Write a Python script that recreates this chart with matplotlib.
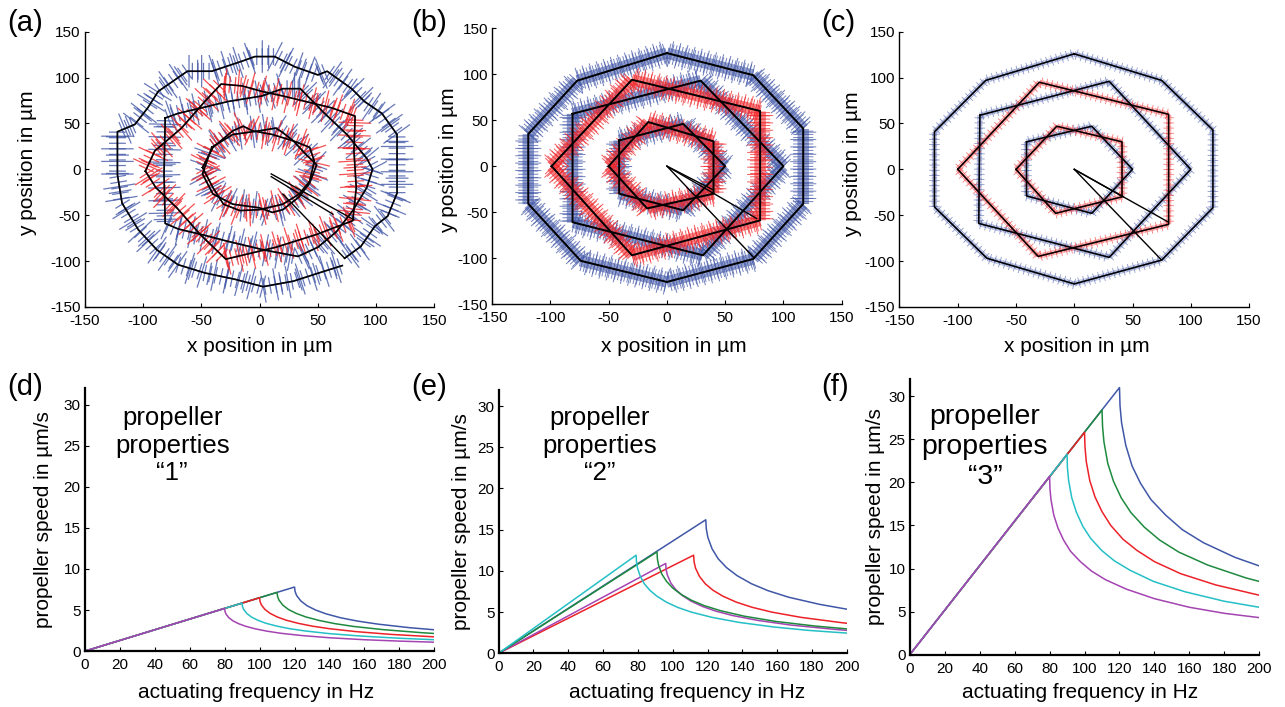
import matplotlib
matplotlib.use("Agg")
import matplotlib.pyplot as plt
import matplotlib.patheffects as pe

plt.rcParams['font.family'] = ['Liberation Sans', 'DejaVu Sans']
plt.rcParams['axes.unicode_minus'] = False

# ---- top row: trajectories (x, y in um), loops ----
a_deca_x = [73, 87, 99, 110, 118, 118, 118, 105, 90, 79, 58, 50, 30, 13, -4, -15, -41, -62, -87, -96, -107, -122, -122, -118, -104, -88, -70, -47, -21, 3, 29, 51, 71]
a_deca_y = [-97, -84, -62, -51, -26, 3, 38, 61, 74, 88, 107, 103, 112, 123, 123, 118, 107, 107, 85, 67, 49, 41, -6, -37, -66, -88, -104, -113, -120, -128, -122, -113, -105]
a_p100b_x = [-81, -70, -50, -27, 2, 20, 35, 55, 75, 92, 97, 92, 80, 66, 50, 33, 4, -29, -47, -70, -81, -82, -81]
a_p100b_y = [56, 61, 67, 74, 80, 88, 88, 62, 38, 12, 0, -20, -45, -68, -85, -95, -88, -78, -72, -65, -59, -6, 56]
a_p100r_x = [-98, -90, -67, -47, -33, -15, 2, 20, 46, 62, 82, 81, 83, 80, 49, 14, -29, -51, -71, -89, -98]
a_p100r_y = [-2, 20, 45, 74, 93, 91, 85, 80, 72, 67, 58, 20, -20, -56, -71, -85, -98, -71, -42, -20, -2]
a_p50r_x = [-49, -40, -23, -14, -6, 11, 29, 43, 47, 43, 34, 20, 0, -17, -31, -40, -49]
a_p50r_y = [2, 24, 42, 47, 42, 38, 31, 24, 9, -13, -27, -38, -44, -45, -38, -20, 2]
a_p50b_x = [-41, -23, 0, 14, 20, 29, 40, 49, 43, 34, 20, 11, 0, -23, -40, -49, -41]
a_p50b_y = [24, 38, 42, 45, 40, 31, 16, 5, -15, -30, -44, -47, -42, -38, -27, -5, 24]
a_spoke_x = [[10, 81], [10, 63], [20, 73]]
a_spoke_y = [[-5, -55], [-8, -49], [-27, -97]]

b_deca_x = [0, 74, 117, 117, 74, 0, -74, -119, -119, -77, 0]
b_deca_y = [123, 99, 41, -41, -101, -126, -103, -41, 35, 93, 123]
b_p100b_x = [-81, 29, 100, 31, -81, -81]
b_p100b_y = [57, 93, 0, -97, -61, 57]
b_p100r_x = [-99, -30, 80, 80, -30, -99]
b_p100r_y = [0, 94, 60, -59, -97, 0]
b_p50r_x = [-50, -16, 40, 40, -17, -50]
b_p50r_y = [0, 48, 27, -30, -46, 0]
b_p50b_x = [-41, 14, 50, 14, -41, -41]
b_p50b_y = [28, 46, 0, -48, -30, 28]
b_spoke_x = [[0, 75], [0, 77], [0, 40]]
b_spoke_y = [[0, -100], [0, -57], [0, -26]]

c_deca_x = [0, 75, 119, 119, 75, 0, -75, -120, -120, -76, 0]
c_deca_y = [126, 97, 43, -42, -99, -125, -97, -41, 41, 97, 126]
c_p100b_x = [-81, 30, 100, 30, -82, -81]
c_p100b_y = [59, 96, 0, -96, -59, 59]
c_p100r_x = [-100, -30, 81, 81, -31, -100]
c_p100r_y = [0, 95, 60, -60, -95, 0]
c_p50r_x = [-50, -15, 41, 41, -16, -50]
c_p50r_y = [0, 47, 30, -30, -48, 0]
c_p50b_x = [-41, 15, 50, 15, -41, -41]
c_p50b_y = [30, 47, 0, -48, -29, 30]
c_spoke_x = [[0, 42], [0, 80], [0, 75]]
c_spoke_y = [[0, -30], [0, -57], [0, -99]]

# ---- bottom row: speed vs actuating frequency ----
freq_120 = [0, 120, 120.3, 121.2, 123.6, 127.2, 132, 138, 146.4, 156, 168, 186, 200]
freq_110 = [0, 110, 110.3, 111.1, 113.3, 116.6, 121, 126.5, 134.2, 143, 154, 170.5, 192.5, 200]
freq_100 = [0, 100, 100.25, 101, 103, 106, 110, 115, 122, 130, 140, 155, 175, 200]
freq_90 = [0, 90, 90.2, 90.9, 92.7, 95.4, 99, 103.5, 109.8, 117, 126, 139.5, 157.5, 180, 200]
freq_80 = [0, 80, 80.2, 80.8, 82.4, 84.8, 88, 92, 97.6, 104, 112, 124, 140, 160, 180, 200]

d_blue = [0, 7.8, 7.27, 6.77, 6.11, 5.52, 5.01, 4.54, 4.06, 3.66, 3.28, 2.85, 2.60]
d_green = [0, 7.15, 6.66, 6.21, 5.60, 5.06, 4.59, 4.16, 3.73, 3.35, 3.00, 2.62, 2.25, 2.15]
d_red = [0, 6.5, 6.06, 5.64, 5.09, 4.60, 4.17, 3.78, 3.39, 3.05, 2.73, 2.38, 2.04, 1.74]
d_cyan = [0, 5.85, 5.45, 5.08, 4.58, 4.14, 3.76, 3.40, 3.05, 2.74, 2.46, 2.14, 1.84, 1.57, 1.39]
d_magenta = [0, 5.2, 4.85, 4.51, 4.07, 3.68, 3.34, 3.03, 2.71, 2.44, 2.18, 1.90, 1.63, 1.39, 1.22, 1.09]

f_blue = [0, 31.0, 28.9, 26.9, 24.3, 21.9, 19.9, 18.0, 16.2, 14.5, 13.0, 11.3, 10.3]
f_green = [0, 28.4, 26.5, 24.7, 22.2, 20.1, 18.2, 16.5, 14.8, 13.3, 11.9, 10.4, 8.9, 8.5]
f_red = [0, 25.8, 24.1, 22.4, 20.2, 18.3, 16.6, 15.0, 13.4, 12.1, 10.8, 9.4, 8.1, 6.9]
f_cyan = [0, 23.25, 21.7, 20.2, 18.2, 16.5, 14.9, 13.5, 12.1, 10.9, 9.8, 8.5, 7.3, 6.2, 5.5]
f_magenta = [0, 20.7, 19.3, 18.0, 16.2, 14.7, 13.3, 12.0, 10.8, 9.7, 8.7, 7.6, 6.5, 5.5, 4.8, 4.3]

e_freq_blue = [0, 119, 119.3, 120.2, 122.6, 126.1, 130.9, 136.9, 145.2, 154.7, 166.6, 184.5, 200]
e_blue = [0, 16.2, 15.1, 14.06, 12.68, 11.47, 10.4, 9.43, 8.44, 7.6, 6.8, 5.93, 5.35]
e_freq_red = [0, 112, 112.3, 113.1, 115.4, 118.7, 123.2, 128.8, 136.6, 145.6, 156.8, 173.6, 196, 200]
e_red = [0, 11.9, 11.09, 10.33, 9.32, 8.43, 7.64, 6.93, 6.2, 5.58, 5.0, 4.36, 3.74, 3.64]
e_freq_green = [0, 91, 91.2, 91.9, 93.7, 96.5, 100.1, 104.7, 111.0, 118.3, 127.4, 141.1, 159.3, 182, 200]
e_green = [0, 12.3, 11.46, 10.68, 9.63, 8.71, 7.9, 7.16, 6.41, 5.77, 5.17, 4.5, 3.86, 3.3, 2.96]
e_freq_magenta = [0, 96, 96.2, 97.0, 98.9, 101.8, 105.6, 110.4, 117.1, 124.8, 134.4, 148.8, 168, 192, 200]
e_magenta = [0, 10.9, 10.16, 9.46, 8.53, 7.72, 7.0, 6.34, 5.68, 5.11, 4.58, 3.99, 3.42, 2.92, 2.78]
e_freq_cyan = [0, 79, 79.2, 79.8, 81.4, 83.7, 86.9, 90.9, 96.4, 102.7, 110.6, 122.5, 138.3, 158, 177.8, 200]
e_cyan = [0, 11.9, 11.09, 10.33, 9.32, 8.43, 7.64, 6.93, 6.2, 5.58, 5.0, 4.36, 3.74, 3.19, 2.78, 2.45]

BLUE_ERR = '#4358a8'
RED_ERR = '#f0262a'
C_BLUE = '#4057a8'
C_GREEN = '#1e8a3e'
C_RED = '#ec2228'
C_CYAN = '#25bfc6'
C_MAG = '#a443b2'

fig = plt.figure(figsize=(12.85, 7.07), dpi=100)


def style_axes(ax, lw):
    ax.spines['top'].set_visible(False)
    ax.spines['right'].set_visible(False)
    ax.spines['left'].set_linewidth(lw)
    ax.spines['bottom'].set_linewidth(lw)
    ax.tick_params(direction='in', length=3, width=0.8, labelsize=11)
    ax.tick_params(axis='x', pad=5)
    ax.tick_params(axis='y', pad=3)


def noisy_loop(ax, xs, ys, color, hairs, alpha):
    # fuzzy error "crosses" drawn as ticks on both sides of the path
    fx = []
    for spacing, length, lw in hairs:
        for ang in (90, -90):
            fx.append(pe.TickedStroke(spacing=spacing, angle=ang, length=length,
                                      linewidth=lw, foreground=color, alpha=alpha))
    ax.plot(xs, ys, color=color, lw=1.0, alpha=alpha,
            path_effects=fx + [pe.Normal()], zorder=1)


def traj_panel(rect, loops, spokes_x, spokes_y, hairs, alpha, black_lw, xlab, ylab):
    ax = fig.add_axes(rect)
    for xs, ys, col in loops:
        noisy_loop(ax, xs, ys, col, hairs, alpha)
    for xs, ys, col in loops:
        ax.plot(xs, ys, color='black', lw=black_lw, zorder=3)
    for xs, ys in zip(spokes_x, spokes_y):
        ax.plot(xs, ys, color='black', lw=1.0, zorder=3)
    ax.set_xlim(-150, 150)
    ax.set_ylim(-150, 150)
    ax.set_xticks(range(-150, 151, 50))
    ax.set_yticks(range(-150, 151, 50))
    style_axes(ax, 1.0)
    ax.set_xlabel('x position in µm', fontsize=15)
    ax.set_ylabel('y position in µm', fontsize=15)
    ax.xaxis.set_label_coords(*xlab)
    ax.yaxis.set_label_coords(*ylab)
    return ax


traj_panel([0.066, 0.566, 0.272, 0.389],
           [(a_deca_x, a_deca_y, BLUE_ERR), (a_p100b_x, a_p100b_y, BLUE_ERR),
            (a_p50b_x, a_p50b_y, BLUE_ERR), (a_p100r_x, a_p100r_y, RED_ERR),
            (a_p50r_x, a_p50r_y, RED_ERR)],
           a_spoke_x, a_spoke_y,
           [(4.0, 1.4, 0.9), (9.0, 1.25, 0.9), (13.0, 0.6, 0.9)], 0.8, 1.2,
           (0.5, -0.109), (-0.137, 0.524))
traj_panel([0.383, 0.570, 0.272, 0.390],
           [(b_deca_x, b_deca_y, BLUE_ERR), (b_p100b_x, b_p100b_y, BLUE_ERR),
            (b_p50b_x, b_p50b_y, BLUE_ERR), (b_p100r_x, b_p100r_y, RED_ERR),
            (b_p50r_x, b_p50r_y, RED_ERR)],
           b_spoke_x, b_spoke_y,
           [(0.9, 4.2, 0.7), (2.3, 3.0, 0.7), (5.3, 1.7, 0.7)], 0.75, 1.4,
           (0.52, -0.12), (-0.097, 0.52))
traj_panel([0.700, 0.566, 0.272, 0.389],
           [(c_deca_x, c_deca_y, BLUE_ERR), (c_p100b_x, c_p100b_y, BLUE_ERR),
            (c_p50b_x, c_p50b_y, BLUE_ERR), (c_p100r_x, c_p100r_y, RED_ERR),
            (c_p50r_x, c_p50r_y, RED_ERR)],
           c_spoke_x, c_spoke_y,
           [(1.0, 1.6, 0.6), (3.7, 0.95, 0.6)], 0.6, 1.1,
           (0.507, -0.109), (-0.106, 0.52))


def speed_panel(rect, curves, text, text_xy, text_size, xlab, ylab):
    ax = fig.add_axes(rect)
    for fr, sp, col in curves:
        ax.plot(fr, sp, color=col, lw=1.1)
    ax.set_xlim(0, 200)
    ax.set_ylim(0, 32)
    ax.set_xticks(range(0, 201, 20))
    ax.set_yticks(range(0, 31, 5))
    style_axes(ax, 1.6)
    ax.set_xlabel('actuating frequency in Hz', fontsize=15)
    ax.set_ylabel('propeller speed in µm/s', fontsize=15)
    ax.xaxis.set_label_coords(*xlab)
    ax.yaxis.set_label_coords(*ylab)
    ax.text(text_xy[0], text_xy[1], text, fontsize=text_size, ha='center', va='center',
            linespacing=1.2)
    return ax


speed_panel([0.066, 0.079, 0.272, 0.372],
            [(freq_120, d_blue, C_BLUE), (freq_110, d_green, C_GREEN), (freq_100, d_red, C_RED),
             (freq_90, d_cyan, C_CYAN), (freq_80, d_magenta, C_MAG)],
            'propeller\nproperties\n\u201c1\u201d', (50, 25), 18.5,
            (0.49, -0.122), (-0.091, 0.5))
speed_panel([0.388, 0.076, 0.271, 0.373],
            [(e_freq_blue, e_blue, C_BLUE), (e_freq_red, e_red, C_RED),
             (e_freq_magenta, e_magenta, C_MAG), (e_freq_green, e_green, C_GREEN),
             (e_freq_cyan, e_cyan, C_CYAN)],
            'propeller\nproperties\n\u201c2\u201d', (58, 25.2), 18.5,
            (0.54, -0.114), (-0.078, 0.5))
speed_panel([0.708, 0.074, 0.272, 0.390],
            [(freq_120, f_blue, C_BLUE), (freq_110, f_green, C_GREEN), (freq_100, f_red, C_RED),
             (freq_90, f_cyan, C_CYAN), (freq_80, f_magenta, C_MAG)],
            'propeller\nproperties\n\u201c3\u201d', (43, 24.1), 20.5,
            (0.486, -0.101), (-0.071, 0.5))

for lab, x, y in [('(a)', 0.006, 0.967), ('(b)', 0.320, 0.967), ('(c)', 0.639, 0.967),
                  ('(d)', 0.006, 0.452), ('(e)', 0.320, 0.452), ('(f)', 0.639, 0.452)]:
    fig.text(x, y, lab, fontsize=21, ha='left', va='center')

fig.savefig('out.png', dpi=100)
